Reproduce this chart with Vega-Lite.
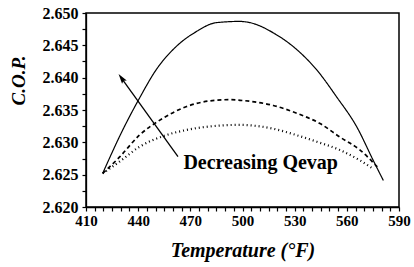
{
  "$schema": "https://vega.github.io/schema/vega-lite/v6.json",
  "width": 313,
  "height": 194,
  "autosize": "none",
  "padding": {"left": 86, "top": 13, "right": 15, "bottom": 60},
  "background": "white",
  "config": {
    "view": {"stroke": "black", "strokeWidth": 1.5},
    "font": "Liberation Serif",
    "axis": {
      "labelOverlap": false,
      "grid": false,
      "domainColor": "black",
      "domainWidth": 1.3,
      "ticks": true,
      "tickColor": "black",
      "tickOpacity": 1,
      "tickWidth": 1.2,
      "labelColor": "black",
      "labelFont": "Liberation Serif",
      "labelFontWeight": "bold",
      "labelFlush": false,
      "titleFont": "Liberation Serif",
      "titleFontWeight": "bold",
      "titleFontStyle": "italic",
      "titleColor": "black",
      "titleBaseline": "middle"
    }
  },
  "datasets": {
    "curves": [
      {"series": "a", "T": 419.6, "cop": 2.6252},
      {"series": "a", "T": 431.1, "cop": 2.6319},
      {"series": "a", "T": 440.7, "cop": 2.6368},
      {"series": "a", "T": 450.3, "cop": 2.6412},
      {"series": "a", "T": 461.8, "cop": 2.6448},
      {"series": "a", "T": 473.3, "cop": 2.6471},
      {"series": "a", "T": 484.8, "cop": 2.6485},
      {"series": "a", "T": 498.2, "cop": 2.6487},
      {"series": "a", "T": 504.5, "cop": 2.6485},
      {"series": "a", "T": 517.9, "cop": 2.6469},
      {"series": "a", "T": 531.4, "cop": 2.6443},
      {"series": "a", "T": 542.7, "cop": 2.6412},
      {"series": "a", "T": 554.2, "cop": 2.6370},
      {"series": "a", "T": 565.7, "cop": 2.6324},
      {"series": "a", "T": 575.2, "cop": 2.6272},
      {"series": "a", "T": 581.0, "cop": 2.6241},
      {"series": "b", "T": 419.6, "cop": 2.6252},
      {"series": "b", "T": 429.2, "cop": 2.6277},
      {"series": "b", "T": 440.7, "cop": 2.6311},
      {"series": "b", "T": 454.1, "cop": 2.6337},
      {"series": "b", "T": 467.5, "cop": 2.6355},
      {"series": "b", "T": 480.9, "cop": 2.6364},
      {"series": "b", "T": 492.4, "cop": 2.6366},
      {"series": "b", "T": 498.6, "cop": 2.6365},
      {"series": "b", "T": 517.7, "cop": 2.6357},
      {"series": "b", "T": 531.2, "cop": 2.6345},
      {"series": "b", "T": 544.6, "cop": 2.6329},
      {"series": "b", "T": 556.1, "cop": 2.6308},
      {"series": "b", "T": 567.6, "cop": 2.6288},
      {"series": "b", "T": 577.5, "cop": 2.6262},
      {"series": "c", "T": 419.6, "cop": 2.6252},
      {"series": "c", "T": 429.2, "cop": 2.6270},
      {"series": "c", "T": 440.7, "cop": 2.6293},
      {"series": "c", "T": 456.0, "cop": 2.6311},
      {"series": "c", "T": 467.5, "cop": 2.6319},
      {"series": "c", "T": 482.9, "cop": 2.6325},
      {"series": "c", "T": 498.2, "cop": 2.6327},
      {"series": "c", "T": 517.7, "cop": 2.6321},
      {"series": "c", "T": 531.2, "cop": 2.6311},
      {"series": "c", "T": 542.7, "cop": 2.6301},
      {"series": "c", "T": 556.1, "cop": 2.6288},
      {"series": "c", "T": 567.6, "cop": 2.6272},
      {"series": "c", "T": 575.2, "cop": 2.6259}
    ],
    "arrow": [
      {"T": 462.9, "cop": 2.6278, "T2": 430.5, "cop2": 2.6399}
    ],
    "label": [
      {"T": 466.0, "cop": 2.6268, "text": "Decreasing  Qevap"}
    ]
  },
  "encoding": {
    "x": {
      "field": "T", "type": "quantitative",
      "scale": {"domain": [410, 590], "nice": false, "zero": false},
      "axis": {
        "title": "Temperature (°F)",
        "values": [410,415,420,425,430,435,440,445,450,455,460,465,470,475,480,485,490,495,500,505,510,515,520,525,530,535,540,545,550,555,560,565,570,575,580,585,590],
        "labelExpr": "(datum.value - 410) % 30 == 0 ? datum.label : ''",
        "labelOverlap": false,
        "ticks": true,
        "tickSize": 4,
        "labelPadding": 2,
        "labelFontSize": 15,
        "titleFontSize": 20,
        "titleY": 43
      }
    },
    "y": {
      "field": "cop", "type": "quantitative",
      "scale": {"domain": [2.62, 2.65], "nice": false, "zero": false},
      "axis": {
        "title": "C.O.P.",
        "values": [2.62,2.6225,2.625,2.6275,2.63,2.6325,2.635,2.6375,2.64,2.6425,2.645,2.6475,2.65],
        "labelExpr": "round(datum.value * 400) % 2 == 0 ? format(datum.value, '.3f') : ''",
        "labelOverlap": false,
        "ticks": true,
        "tickSize": 4,
        "labelPadding": 4,
        "labelFontSize": 16,
        "titleFontSize": 19,
        "titleX": -68,
        "titleY": 67
      }
    }
  },
  "layer": [
    {
      "data": {"name": "curves"},
      "mark": {"type": "line", "interpolate": "monotone", "color": "black"},
      "encoding": {
        "detail": {"field": "series"},
        "strokeDash": {
          "field": "series", "type": "nominal",
          "scale": {"domain": ["a", "b", "c"], "range": [[1, 0], [4, 3], [1, 3]]},
          "legend": null
        },
        "strokeWidth": {
          "field": "series", "type": "nominal",
          "scale": {"domain": ["a", "b", "c"], "range": [1.2, 2.2, 1.2]},
          "legend": null
        }
      }
    },
    {
      "data": {"name": "arrow"},
      "mark": {"type": "rule", "color": "black", "strokeWidth": 1.3},
      "encoding": {
        "x2": {"field": "T2"},
        "y2": {"field": "cop2"}
      }
    },
    {
      "data": {"name": "arrow"},
      "mark": {"type": "point", "shape": "M0,-1L0.55,0.9L0,0.6L-0.55,0.9Z", "filled": true, "color": "black", "opacity": 1, "size": 110, "angle": 324},
      "encoding": {
        "x": {"field": "T2", "type": "quantitative"},
        "y": {"field": "cop2", "type": "quantitative"}
      }
    },
    {
      "data": {"name": "label"},
      "mark": {"type": "text", "align": "left", "baseline": "middle", "font": "Liberation Serif", "fontSize": 20, "fontWeight": "bold", "color": "black"},
      "encoding": {
        "text": {"field": "text"}
      }
    }
  ]
}
